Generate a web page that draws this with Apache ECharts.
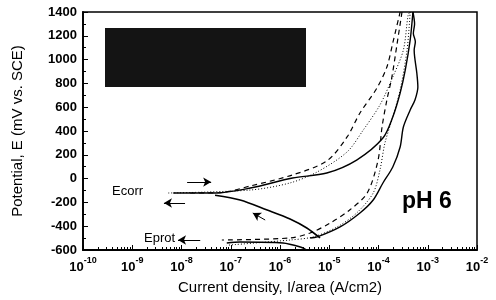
<!DOCTYPE html>
<html>
<head>
<meta charset="utf-8">
<script src="https://cdn.jsdelivr.net/npm/echarts@6/dist/echarts.min.js"></script>
<style>
  html, body { margin: 0; padding: 0; background: #fff; }
  #chart { width: 496px; height: 300px; }
</style>
</head>
<body>
<div id="chart"></div>
<script>
// current density (A/cm2) and potential (mV vs. SCE)
var solidUpI = [6.8e-9, 4.8e-8, 2.5e-7, 1.8e-6, 8.9e-6, 3.6e-5, 1.23e-4, 1.95e-4, 2.75e-4, 3.5e-4, 4.4e-4, 5.0e-4];
var solidUpE = [-121, -121, -79, 5, 47, 156, 341, 518, 719, 913, 1165, 1400];

var solidDownI = [5.0e-4, 5.4e-4, 5.1e-4, 5.6e-4, 5.3e-4, 6.0e-4, 6.3e-4, 5.5e-4, 4.4e-4, 3.2e-4, 2.75e-4, 1.95e-4, 1.23e-4, 7.8e-5, 4.2e-5, 1.66e-5, 5.7e-6, 4.1e-6];
var solidDownE = [1400, 1300, 1220, 1150, 1081, 887, 770, 661, 577, 434, 266, 98, -37, -180, -289, -406, -490, -499];

var solidLowI = [8.3e-8, 1.55e-7, 1.15e-6, 2.6e-6, 3.5e-6];
var solidLowE = [-541, -533, -541, -575, -600];

var cathI = [4.8e-8, 1.55e-7, 5.5e-7, 1.6e-6, 3.5e-6, 6.5e-6];
var cathE = [-140, -180, -264, -339, -415, -499];

var dashUpI = [1.5e-8, 6e-8, 2.5e-7, 1.8e-6, 8.9e-6, 2.3e-5, 4.2e-5, 9.3e-5, 1.48e-4, 1.95e-4, 2.75e-4];
var dashUpE = [-121, -118, -62, 31, 148, 350, 551, 761, 938, 1140, 1400];

var dashDownI = [3.0e-4, 2.4e-4, 1.87e-4, 1.48e-4, 1.18e-4, 9.8e-5, 5.9e-5, 2.6e-5, 1.05e-5, 4.1e-6, 1.6e-6, 6.6e-8];
var dashDownE = [1400, 1140, 854, 661, 434, 156, -121, -264, -373, -457, -499, -516];

var dotUpI = [5.4e-9, 2.5e-7, 1.58e-6, 5.7e-6, 2.3e-5, 4.9e-5, 1.07e-4, 1.95e-4, 3.2e-4, 4.0e-4, 4.4e-4];
var dotUpE = [-121, -96, -37, 56, 224, 408, 619, 854, 1081, 1375, 1400];

var dotDownI = [4.4e-4, 3.8e-4, 2.75e-4, 1.87e-4, 1.35e-4, 1.07e-4, 7.8e-5, 3.6e-5, 1.45e-5, 4.7e-6, 1.6e-6, 8.3e-8];
var dotDownE = [1400, 1081, 745, 493, 299, 72, -121, -289, -406, -490, -516, -560];

// scan direction arrows [I1, E1, I2, E2]
var arrows = [
  [1.3e-8, -29, 4.0e-8, -29],
  [1.18e-8, -205, 4.4e-9, -205],
  [2.4e-8, -516, 8.5e-9, -516],
  [5.0e-7, -348, 2.8e-7, -289]
];

var yTicks = [-600, 1400, 200];

function zip(xs, ys) {
  var out = [];
  for (var i = 0; i < xs.length; i++) out.push([xs[i], ys[i]]);
  return out;
}

function curve(xs, ys, type, width) {
  return {
    type: 'line',
    data: zip(xs, ys),
    symbol: 'none',
    smooth: 0.3,
    silent: true,
    animation: false,
    lineStyle: { color: '#000', width: width, type: type }
  };
}

var chart = echarts.init(document.getElementById('chart'));
var font = 'Liberation Sans, Arial, sans-serif';

var series = [
  curve(solidUpI, solidUpE, 'solid', 1.4),
  curve(solidDownI, solidDownE, 'solid', 1.4),
  curve(solidLowI, solidLowE, 'solid', 1.4),
  curve(cathI, cathE, 'solid', 1.6),
  curve(dashUpI, dashUpE, [5, 4], 1.2),
  curve(dashDownI, dashDownE, [5, 4], 1.2),
  curve(dotUpI, dotUpE, [1, 2], 1),
  curve(dotDownI, dotDownE, [1, 2], 1)
];

series[0].markLine = {
  silent: true,
  animation: false,
  symbol: ['none', 'arrow'],
  symbolSize: [7, 8],
  label: { show: false },
  lineStyle: { color: '#000', width: 1, type: 'solid' },
  data: arrows.map(function (a) {
    return [{ coord: [a[0], a[1]] }, { coord: [a[2], a[3]] }];
  })
};

chart.setOption({
  backgroundColor: '#fff',
  animation: false,
  grid: {
    left: 83, right: 19, top: 12, bottom: 50,
    show: true, borderColor: '#000', borderWidth: 1.5
  },
  xAxis: {
    type: 'log',
    logBase: 10,
    min: 1e-10,
    max: 1e-2,
    name: 'Current density, I/area (A/cm2)',
    nameLocation: 'middle',
    nameGap: 30,
    nameTextStyle: { fontFamily: font, fontSize: 15, color: '#000' },
    axisLine: { onZero: false, lineStyle: { color: '#000', width: 1.8 } },
    axisTick: { inside: true, length: 5, lineStyle: { color: '#000' } },
    minorTick: { show: true, splitNumber: 9, length: 3, lineStyle: { color: '#000' } },
    splitLine: { show: false },
    axisLabel: {
      margin: 6,
      formatter: function (v) {
        return '{b|10}{s|' + Math.round(Math.log10(v)) + '}';
      },
      rich: {
        b: { fontFamily: font, fontSize: 13, fontWeight: 'bold', color: '#000', lineHeight: 18, verticalAlign: 'bottom' },
        s: { fontFamily: font, fontSize: 9, fontWeight: 'bold', color: '#000', lineHeight: 10, verticalAlign: 'top' }
      }
    }
  },
  yAxis: {
    type: 'value',
    min: yTicks[0],
    max: yTicks[1],
    interval: yTicks[2],
    name: 'Potential, E (mV vs. SCE)',
    nameLocation: 'middle',
    nameGap: 58,
    nameTextStyle: { fontFamily: font, fontSize: 15, color: '#000' },
    axisLine: { show: true, onZero: false, lineStyle: { color: '#000', width: 1.8 } },
    axisTick: { inside: true, length: 5, lineStyle: { color: '#000' } },
    minorTick: { show: true, splitNumber: 2, length: 3, lineStyle: { color: '#000' } },
    splitLine: { show: false },
    axisLabel: {
      margin: 6, fontFamily: font, fontSize: 13, fontWeight: 'bold', color: '#000',
      formatter: function (v) { return String(v); }
    }
  },
  graphic: [
    { type: 'rect', left: 105, top: 28, shape: { width: 201, height: 59 }, style: { fill: '#141414' }, z: 10 },
    { type: 'text', left: 112, top: 185, style: { text: 'Ecorr', font: '13px Liberation Sans', fill: '#000' }, z: 10 },
    { type: 'text', left: 144, top: 232, style: { text: 'Eprot', font: '13px Liberation Sans', fill: '#000' }, z: 10 },
    { type: 'text', left: 402, top: 190, style: { text: 'pH 6', font: 'bold 23px Liberation Sans', fill: '#000' }, z: 10 }
  ],
  series: series
});
</script>
</body>
</html>
